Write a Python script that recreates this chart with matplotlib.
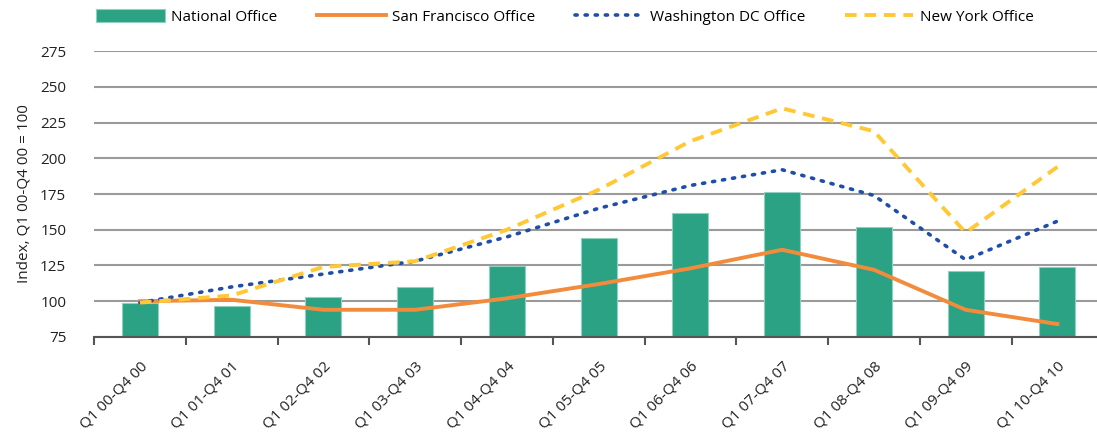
import matplotlib.pyplot as plt
import numpy as np

periods = ['Q1 00-Q4 00', 'Q1 01-Q4 01', 'Q1 02-Q4 02', 'Q1 03-Q4 03', 'Q1 04-Q4 04',
           'Q1 05-Q4 05', 'Q1 06-Q4 06', 'Q1 07-Q4 07', 'Q1 08-Q4 08', 'Q1 09-Q4 09',
           'Q1 10-Q4 10']
national = [99, 96.5, 103, 110, 124.5, 144, 162, 176.5, 152, 121, 124]
san_francisco = [100, 101, 94, 94, 102, 112, 123, 136, 122, 94, 84]
washington = [99, 110, 119, 128, 145, 165, 181, 192, 174, 129, 156]
new_york = [99, 104, 124, 128, 150, 178, 212, 235, 219, 148, 194]

plt.rcParams['font.family'] = ['Open Sans', 'DejaVu Sans']

fig = plt.figure(figsize=(10.97, 4.41), dpi=100)
ax = fig.add_axes([0.0857, 0.236, 0.92, 0.648])

x = np.arange(len(periods))
b = ax.bar(x, [v - 75 for v in national], bottom=75, width=0.39, color='#2aa283',
           edgecolor='#8fd1be', linewidth=0.8, label='National Office', zorder=2)
l1, = ax.plot(x, san_francisco, color='#f28c3c', lw=2.8, label='San Francisco Office', zorder=3)
l2, = ax.plot(x, washington, color='#1f4ea8', lw=2.6, ls=(0, (0.6, 2.2)),
              dash_capstyle='round', label='Washington DC Office', zorder=3)
l3, = ax.plot(x, new_york, color='#ffc834', lw=2.8, ls=(0, (3, 2)), label='New York Office', zorder=3)

ax.set_xlim(-0.5, len(periods) - 0.5)
ax.set_ylim(75, 275)
ax.set_yticks(range(75, 276, 25))
ax.yaxis.grid(True, color='#9a9a9a', lw=1.5, zorder=0)
ax.set_axisbelow(True)
for s in ['top', 'right', 'left']:
    ax.spines[s].set_visible(False)
ax.spines['bottom'].set_color('#555555')
ax.spines['bottom'].set_linewidth(1.5)
ax.tick_params(axis='y', length=0, labelsize=11, colors='#222222', pad=20)

ax.set_xticks(np.arange(-0.5, len(periods), 1), minor=False)
ax.set_xticklabels([])
ax.set_xticks(x, minor=True)
ax.set_xticklabels(periods, minor=True, rotation=45, ha='right', rotation_mode='anchor',
                   fontsize=11, color='#222222')
ax.tick_params(axis='x', which='major', length=6, width=1.5, color='#555555')
ax.tick_params(axis='x', which='minor', length=0, pad=16)

ax.set_ylabel('Index, Q1 00-Q4 00 = 100', fontsize=11, color='#222222', labelpad=6)

fig.legend([b, l1, l2, l3],
           ['National Office', 'San Francisco Office', 'Washington DC Office', 'New York Office'],
           loc='upper left', bbox_to_anchor=(0.075, 1.01), ncol=4, frameon=False,
           fontsize=11, handlelength=4.5, handleheight=0.9, columnspacing=2.6, handletextpad=0.4)

fig.savefig('out.png', dpi=100)
